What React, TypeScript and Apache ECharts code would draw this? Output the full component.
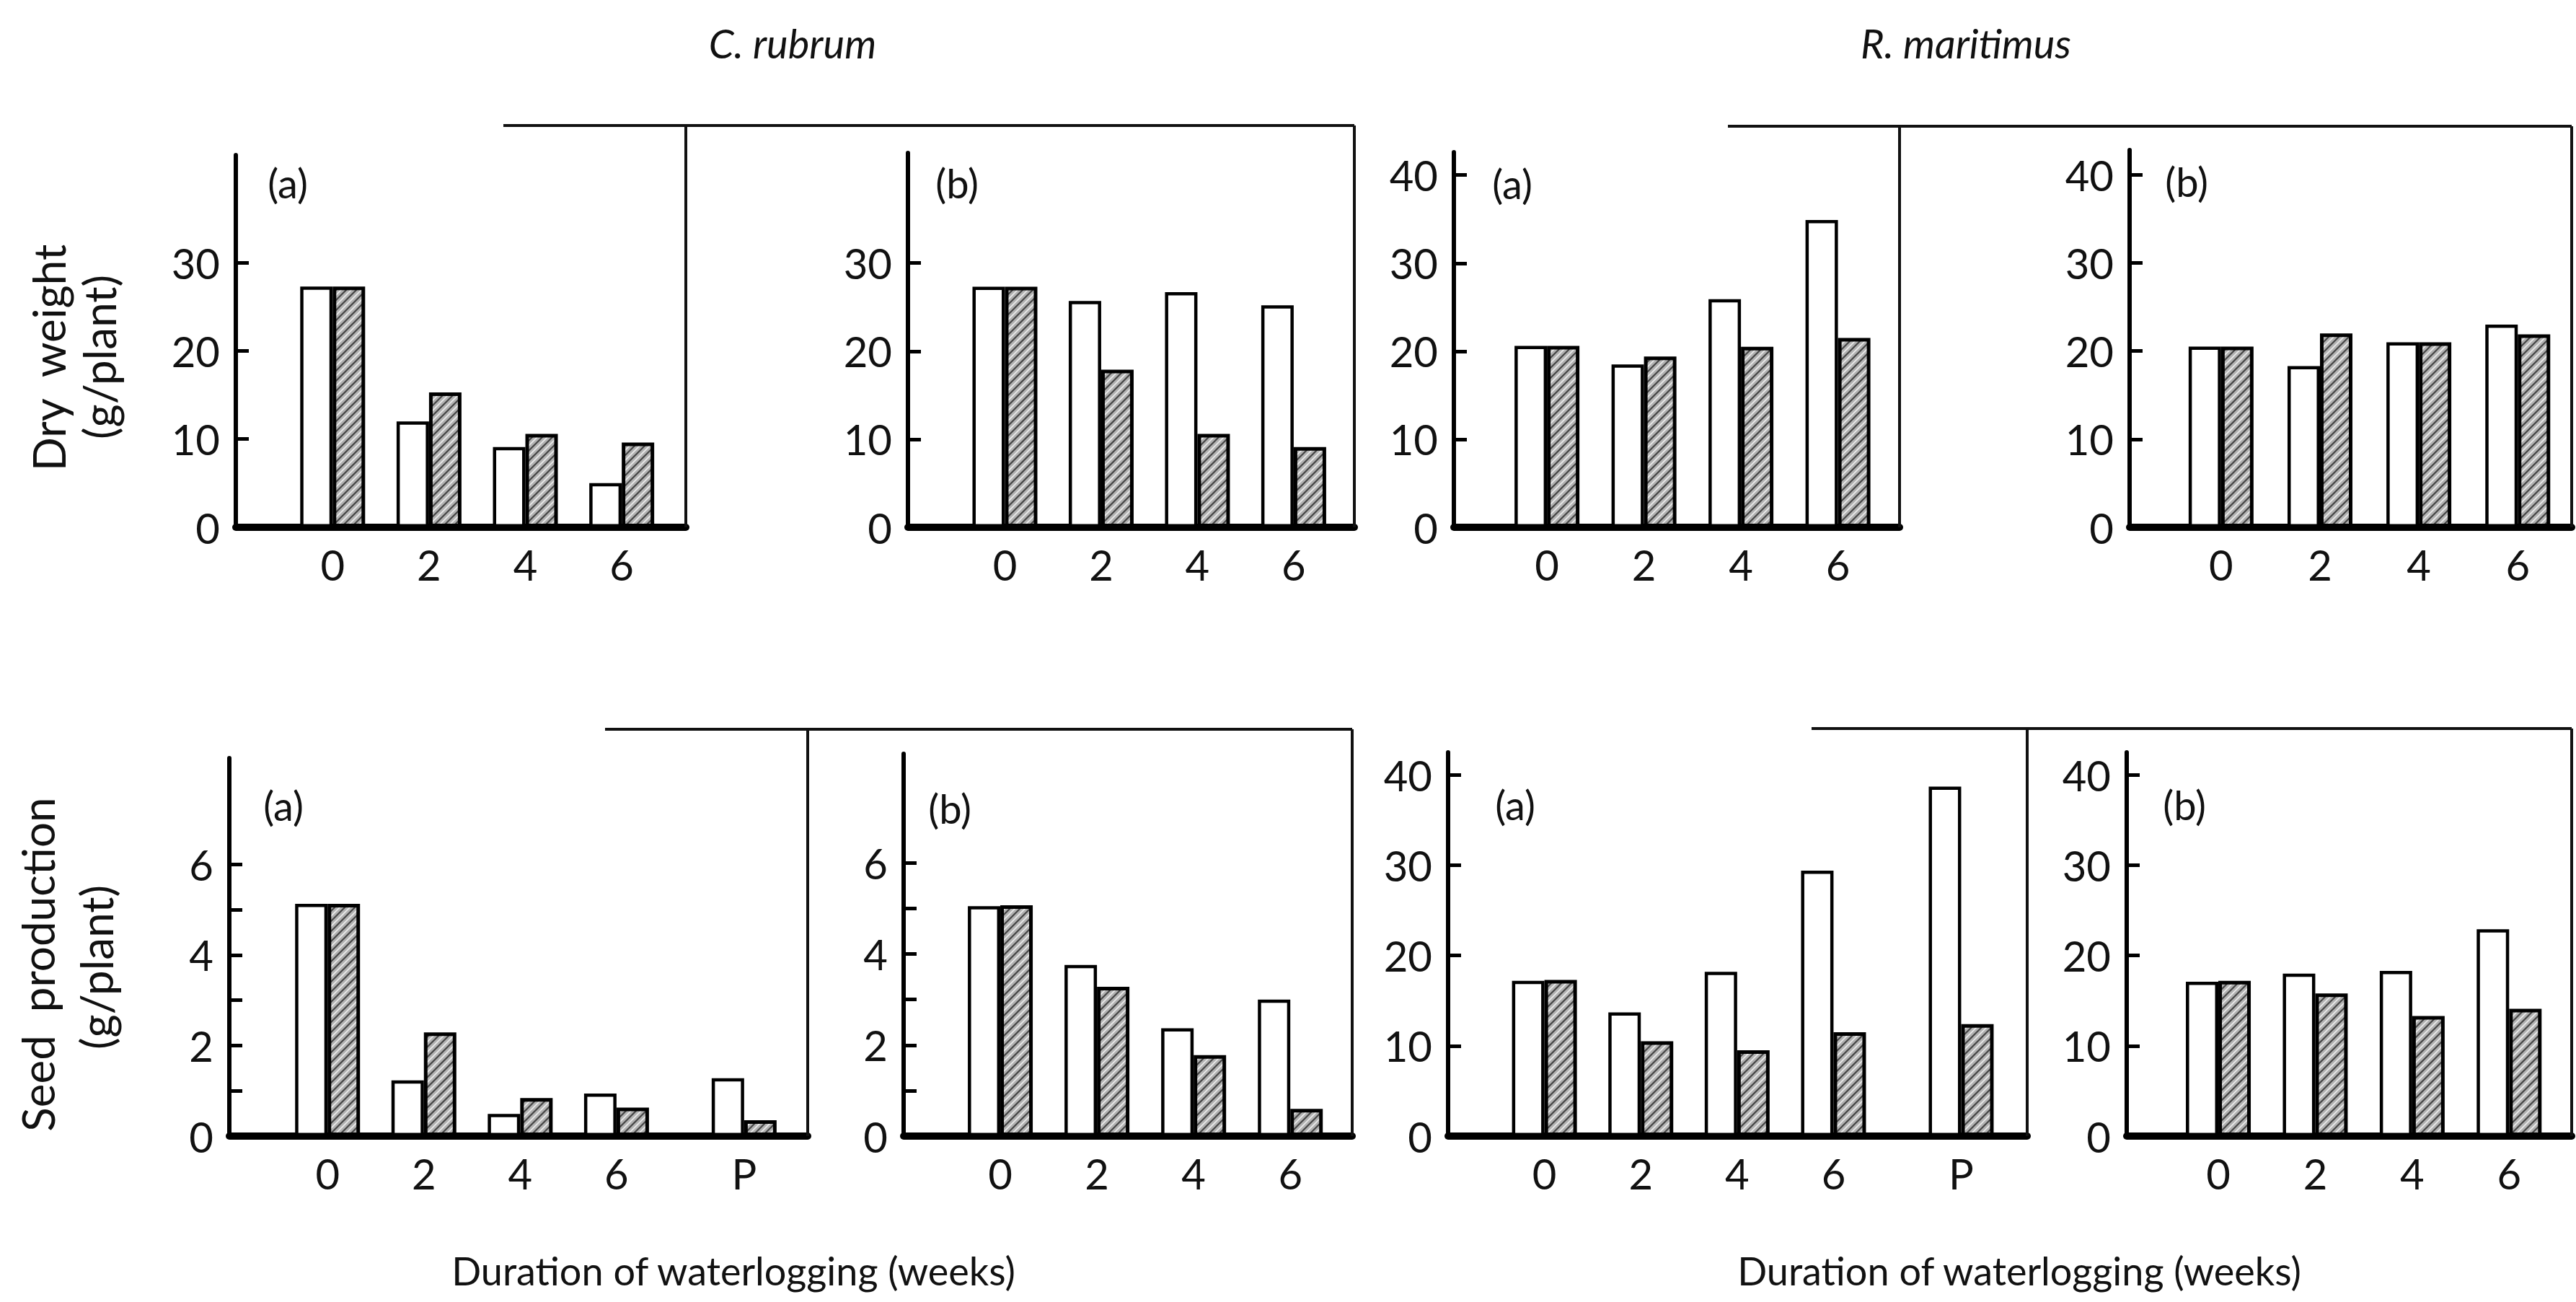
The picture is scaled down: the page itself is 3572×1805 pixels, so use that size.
import React, { useEffect, useRef } from 'react';
import * as echarts from 'echarts';

// ---------- data ----------
const weekCats = ['0', '2', '4', '6'];
const weekCatsP = ['0', '2', '4', '6', 'P'];

// Dry weight (g/plant)
const rubrumDryA_open = [27.3, 12.0, 9.1, 5.0];
const rubrumDryA_hatched = [27.3, 15.3, 10.6, 9.6];
const rubrumDryB_open = [27.3, 25.7, 26.7, 25.2];
const rubrumDryB_hatched = [27.3, 17.9, 10.6, 9.1];
const maritimusDryA_open = [20.6, 18.5, 25.9, 34.9];
const maritimusDryA_hatched = [20.6, 19.4, 20.5, 21.5];
const maritimusDryB_open = [20.5, 18.3, 21.0, 23.0];
const maritimusDryB_hatched = [20.5, 22.0, 21.0, 21.9];

// Seed production (g/plant)
const rubrumSeedA_open = [5.13, 1.23, 0.49, 0.94, 1.28];
const rubrumSeedA_hatched = [5.13, 2.29, 0.84, 0.63, 0.35];
const rubrumSeedB_open = [5.05, 3.76, 2.37, 3.0];
const rubrumSeedB_hatched = [5.07, 3.28, 1.78, 0.6];
const maritimusSeedA_open = [17.2, 13.7, 18.2, 29.4, 38.7];
const maritimusSeedA_hatched = [17.3, 10.5, 9.5, 11.5, 12.4];
const maritimusSeedB_open = [17.1, 18.0, 18.3, 22.9];
const maritimusSeedB_hatched = [17.2, 15.8, 13.3, 14.1];

// Tick values
const dryTicksRubrum = [0, 10, 20, 30];
const dryTicksMaritimus = [0, 10, 20, 30, 40];
const seedTicksRubrum = [0, 1, 2, 3, 4, 5, 6];
const seedLabelsRubrum = [0, 2, 4, 6];
const seedTicksMaritimus = [0, 10, 20, 30, 40];

const speciesTitles = ['C. rubrum', 'R. maritimus'];
const yTitleDry = ['Dry  weight', '(g/plant)'];
const yTitleSeed = ['Seed  production', '(g/plant)'];
const xTitle = 'Duration of waterlogging (weeks)';

// ---------- layout (positions only) ----------
const P_POS = 8.65; // slot of the "P" category on the week scale
const catPos = (c: string) => (c === 'P' ? P_POS : Number(c));

const FONT = 'Lato, "DejaVu Sans", sans-serif';

type PanelData = {
  cats: string[];
  open: number[];
  hatched: number[];
  yMax: number;
  yTicks: number[];
  yLabels: number[];
  tag: string;
};

const panelData: PanelData[] = [
  { cats: weekCats, open: rubrumDryA_open, hatched: rubrumDryA_hatched, yMax: 42.2, yTicks: dryTicksRubrum, yLabels: dryTicksRubrum, tag: '(a)' },
  { cats: weekCats, open: rubrumDryB_open, hatched: rubrumDryB_hatched, yMax: 42.5, yTicks: dryTicksRubrum, yLabels: dryTicksRubrum, tag: '(b)' },
  { cats: weekCats, open: maritimusDryA_open, hatched: maritimusDryA_hatched, yMax: 42.6, yTicks: dryTicksMaritimus, yLabels: dryTicksMaritimus, tag: '(a)' },
  { cats: weekCats, open: maritimusDryB_open, hatched: maritimusDryB_hatched, yMax: 42.8, yTicks: dryTicksMaritimus, yLabels: dryTicksMaritimus, tag: '(b)' },
  { cats: weekCatsP, open: rubrumSeedA_open, hatched: rubrumSeedA_hatched, yMax: 8.35, yTicks: seedTicksRubrum, yLabels: seedLabelsRubrum, tag: '(a)' },
  { cats: weekCats, open: rubrumSeedB_open, hatched: rubrumSeedB_hatched, yMax: 8.4, yTicks: seedTicksRubrum, yLabels: seedLabelsRubrum, tag: '(b)' },
  { cats: weekCatsP, open: maritimusSeedA_open, hatched: maritimusSeedA_hatched, yMax: 42.5, yTicks: seedTicksMaritimus, yLabels: seedTicksMaritimus, tag: '(a)' },
  { cats: weekCats, open: maritimusSeedB_open, hatched: maritimusSeedB_hatched, yMax: 42.5, yTicks: seedTicksMaritimus, yLabels: seedTicksMaritimus, tag: '(b)' },
];

const panelLayout = [
  { left: 327, right: 951, top: 215, bottom: 731, xMin: -2.01, xMax: 7.33, tagX: 399, tagY: 253 },
  { left: 1259, right: 1878, top: 212, bottom: 731, xMin: -2.015, xMax: 7.26, tagX: 1327, tagY: 253 },
  { left: 2016, right: 2634, top: 211, bottom: 731, xMin: -1.92, xMax: 7.27, tagX: 2097, tagY: 254 },
  { left: 2953, right: 3566, top: 208, bottom: 731, xMin: -1.85, xMax: 7.09, tagX: 3032, tagY: 251 },
  { left: 318, right: 1120, top: 1051, bottom: 1575, xMin: -2.04, xMax: 9.97, tagX: 393, tagY: 1116 },
  { left: 1253, right: 1875, top: 1045, bottom: 1575, xMin: -2.0, xMax: 7.28, tagX: 1317, tagY: 1120 },
  { left: 2008, right: 2811, top: 1043, bottom: 1575, xMin: -2.0, xMax: 10.02, tagX: 2101, tagY: 1115 },
  { left: 2949, right: 3566, top: 1043, bottom: 1575, xMin: -1.89, xMax: 7.29, tagX: 3029, tagY: 1115 },
];

function makeHatch(): HTMLCanvasElement {
  const s = 14;
  const c = document.createElement('canvas');
  c.width = s;
  c.height = s;
  const g = c.getContext('2d')!;
  g.fillStyle = '#b2b2b2';
  g.fillRect(0, 0, s, s);
  g.lineCap = 'square';
  g.strokeStyle = '#ececec';
  g.lineWidth = 1.6;
  g.beginPath();
  g.moveTo(-1, s / 2 + 1); g.lineTo(s / 2 + 1, -1);
  g.moveTo(s / 2 - 1, s + 1); g.lineTo(s + 1, s / 2 - 1);
  g.stroke();
  g.strokeStyle = '#454545';
  g.lineWidth = 2.2;
  g.beginPath();
  g.moveTo(-1, s + 1); g.lineTo(s + 1, -1);
  g.moveTo(-1, 1); g.lineTo(1, -1);
  g.moveTo(s - 1, s + 1); g.lineTo(s + 1, s - 1);
  g.stroke();
  return c;
}

function buildOption() {
  const hatch = makeHatch();
  const grid: any[] = [];
  const xAxis: any[] = [];
  const yAxis: any[] = [];
  const series: any[] = [];
  const graphic: any[] = [];

  panelData.forEach((p, i) => {
    const L = panelLayout[i];
    grid.push({
      left: L.left,
      top: L.top,
      width: L.right - L.left,
      height: L.bottom - L.top,
      containLabel: false,
      outerBoundsMode: 'none',
    });
    const xVals = p.cats.map(catPos);
    xAxis.push({
      type: 'value',
      gridIndex: i,
      min: L.xMin,
      max: L.xMax,
      axisLine: { show: true, onZero: false, lineStyle: { color: '#000', width: 10 } },
      axisTick: { show: false },
      splitLine: { show: false },
      axisLabel: {
        customValues: xVals,
        margin: 22,
        fontSize: 58,
        fontFamily: FONT,
        color: '#111',
        formatter: (v: number) => {
          const k = xVals.findIndex((x) => Math.abs(x - v) < 1e-6);
          return k >= 0 ? p.cats[k] : '';
        },
      },
    });
    yAxis.push({
      type: 'value',
      gridIndex: i,
      min: 0,
      max: p.yMax,
      interval: p.yTicks[1] - p.yTicks[0],
      axisLine: { show: true, onZero: false, lineStyle: { color: '#000', width: 6 } },
      axisTick: {
        show: true,
        inside: true,
        length: 18,
        customValues: p.yTicks,
        lineStyle: { color: '#000', width: 5 },
      },
      splitLine: { show: false },
      axisLabel: {
        customValues: p.yLabels,
        margin: 22,
        fontSize: 58,
        fontFamily: FONT,
        color: '#111',
        formatter: (v: number) => (p.yLabels.indexOf(v) >= 0 ? String(v) : ''),
      },
    });
    series.push({
      type: 'bar',
      name: 'open',
      xAxisIndex: i,
      yAxisIndex: i,
      data: p.cats.map((c, j) => [catPos(c), p.open[j]]),
      barWidth: 45,
      barGap: '0%',
      itemStyle: { color: '#ffffff', borderColor: '#000', borderWidth: 4.5 },
      z: 3,
    });
    series.push({
      type: 'bar',
      name: 'hatched',
      xAxisIndex: i,
      yAxisIndex: i,
      data: p.cats.map((c, j) => [catPos(c), p.hatched[j]]),
      barWidth: 45,
      barGap: '0%',
      itemStyle: {
        color: { image: hatch, repeat: 'repeat' },
        borderColor: '#000',
        borderWidth: 5,
      },
      z: 3,
    });
    graphic.push({
      type: 'text',
      x: L.tagX,
      y: L.tagY,
      style: {
        text: p.tag,
        fontSize: 56,
        fontFamily: FONT,
        fill: '#111',
        textAlign: 'center',
        textVerticalAlign: 'middle',
      },
    });
  });

  const lineStyle = { stroke: '#111', lineWidth: 4 };
  const frameLines = [
    [698, 174, 1878, 174], [951, 174, 951, 731], [1878, 174, 1878, 731],
    [2396, 175, 3566, 175], [2634, 175, 2634, 731], [3566, 175, 3566, 731],
    [839, 1011, 1875, 1011], [1120, 1011, 1120, 1575], [1875, 1011, 1875, 1575],
    [2512, 1010, 3566, 1010], [2811, 1010, 2811, 1575], [3566, 1010, 3566, 1575],
  ];
  frameLines.forEach(([x1, y1, x2, y2]) => {
    graphic.push({ type: 'line', shape: { x1, y1, x2, y2 }, style: lineStyle, z: 1 });
  });

  const txt = (text: string, x: number, y: number, size: number, extra: any = {}, rot = 0) => ({
    type: 'text',
    x,
    y,
    rotation: rot,
    style: {
      text,
      fontSize: size,
      fontFamily: FONT,
      fill: '#111',
      textAlign: 'center',
      textVerticalAlign: 'middle',
      ...extra,
    },
  });

  graphic.push(txt(speciesTitles[0], 1099, 59, 56, { fontStyle: 'italic' }));
  graphic.push(txt(speciesTitles[1], 2726, 59, 56, { fontStyle: 'italic' }));
  graphic.push(txt(yTitleDry[0], 67, 496, 62, {}, Math.PI / 2));
  graphic.push(txt(yTitleDry[1], 137, 495, 62, {}, Math.PI / 2));
  graphic.push(txt(yTitleSeed[0], 52, 1337, 62, {}, Math.PI / 2));
  graphic.push(txt(yTitleSeed[1], 133, 1341, 62, {}, Math.PI / 2));
  graphic.push(txt(xTitle, 1017, 1761, 54));
  graphic.push(txt(xTitle, 2800, 1761, 54));

  return {
    animation: false,
    backgroundColor: '#ffffff',
    grid,
    xAxis,
    yAxis,
    series,
    graphic,
  };
}

export default function App() {
  const ref = useRef<HTMLDivElement>(null);
  useEffect(() => {
    if (!ref.current) return;
    const chart = echarts.init(ref.current, undefined, { renderer: 'svg' });
    chart.setOption(buildOption() as any);
    return () => chart.dispose();
  }, []);
  return (
    <div
      ref={ref}
      style={{ position: 'fixed', left: 0, top: 0, width: 3572, height: 1805, background: '#fff' }}
    />
  );
}
